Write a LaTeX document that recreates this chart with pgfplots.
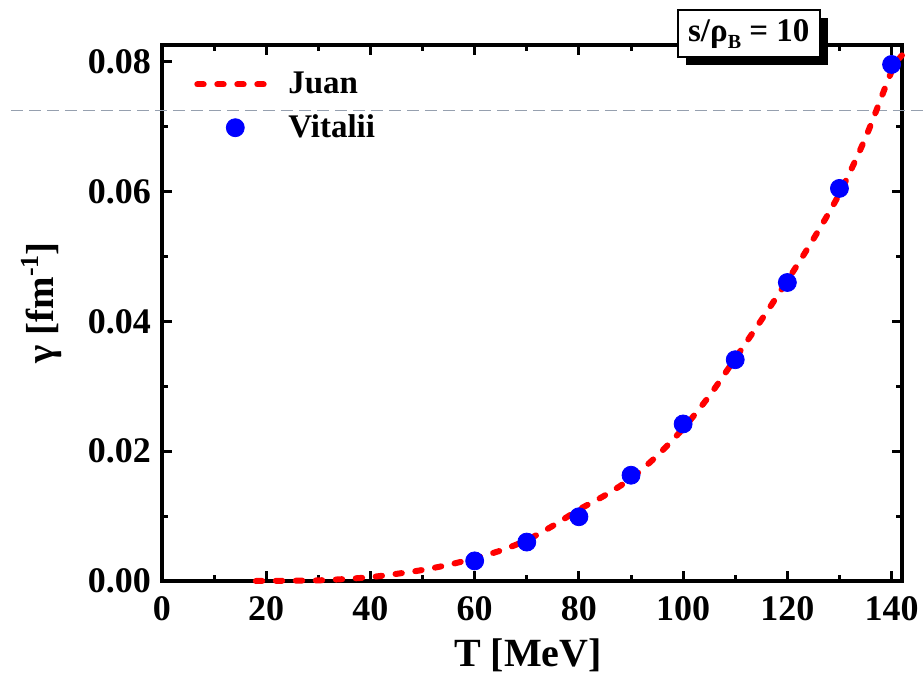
\documentclass[border=0pt]{standalone}
\usepackage{fontspec}
\setmainfont{Liberation Serif}
\usepackage{pgfplots}
\pgfplotsset{compat=1.18}
\usetikzlibrary{shadows}
\definecolor{artgray}{RGB}{150,160,175}

\begin{document}
\begin{tikzpicture}
\useasboundingbox (-81pt,-48pt) rectangle (380.5pt,290.5pt);
\begin{axis}[
  at={(0pt,0pt)}, anchor=south west,
  scale only axis, width=370pt, height=268pt,
  xmin=0, xmax=142, ymin=0, ymax=0.0826,
  xtick={0,20,...,140}, minor xtick={10,30,...,130},
  ytick={0,0.02,0.04,0.06,0.08}, minor ytick={0.01,0.03,0.05,0.07},
  tick align=inside, major tick length=5pt, minor tick length=3pt,
  every tick/.style={black, line width=1.5pt},
  axis line style={line width=2pt},
  scaled y ticks=false,
  /pgf/number format/assume math mode=true,
  yticklabel style={/pgf/number format/.cd, fixed, fixed zerofill, precision=2, /tikz/.cd, xshift=-2pt},
  xticklabel style={yshift=-4pt},
  tick label style={font=\fontsize{18}{18}\selectfont\bfseries},
  xlabel={T [MeV]},
  ylabel={γ [fm\raisebox{0.85ex}{\fontsize{13}{13}\selectfont -1}]},
  xlabel style={at={(axis description cs:0.4946,-0.138)}, anchor=center, font=\fontsize{20}{20}\selectfont\bfseries},
  ylabel style={at={(axis description cs:-0.163,0.519)}, anchor=center, font=\fontsize{19.5}{19.5}\selectfont\bfseries},
  clip=false,
  legend style={at={(axis description cs:0.035,0.965)}, anchor=north west,
    draw=none, fill=none, font=\fontsize{16.5}{16.5}\selectfont\bfseries, row sep=5pt,
    /tikz/every odd column/.append style={column sep=4pt}},
  legend cell align=left,
  legend image code/.code={\draw[mark repeat=2,mark phase=2,#1] plot coordinates {(0pt,0pt) (19pt,0pt) (38pt,0pt)};},
]
\draw[artgray, line width=0.5pt, dash pattern=on 6pt off 3pt] (axis cs:-29,0.0725) -- (axis cs:146,0.0725);

\addplot[red, line width=3pt, line cap=round, dash pattern=on 3.2pt off 6.8pt, smooth] coordinates {
(18,0) (20,0.00002) (25,0.00005) (30,0.0001) (35,0.0003) (40,0.0006)
(45,0.0011) (50,0.0017) (55,0.0025) (60,0.0035) (65,0.0047) (70,0.0063)
(75,0.0085) (80,0.0110) (85,0.0132) (90,0.0158) (95,0.0193) (100,0.0235)
(105,0.0285) (110,0.0343) (115,0.0402) (120,0.0463) (125,0.0527) (130,0.0597)
(135,0.0683) (140,0.0785) (142,0.0810)
};
\addlegendentry{Juan}

\addplot[only marks, mark=*, mark size=4.5pt, blue, mark options={draw=blue, fill=blue}] coordinates {
(60,0.0031) (70,0.0060) (80,0.0099) (90,0.0163) (100,0.0242)
(110,0.0341) (120,0.0460) (130,0.0605) (140,0.0796)
};
\addlegendentry{Vitalii}

\node[draw=black, fill=white, line width=0.8pt, minimum width=71pt, minimum height=23.5pt,
  inner sep=2pt, font=\fontsize{16.5}{16.5}\selectfont\bfseries,
  drop shadow={shadow xshift=4pt, shadow yshift=-4pt, fill=black, opacity=1}]
  at (rel axis cs:0.793,1.021) {s/ρ\raisebox{-0.45ex}{\fontsize{10}{10}\selectfont B} = 10};
\end{axis}
\end{tikzpicture}
\end{document}
